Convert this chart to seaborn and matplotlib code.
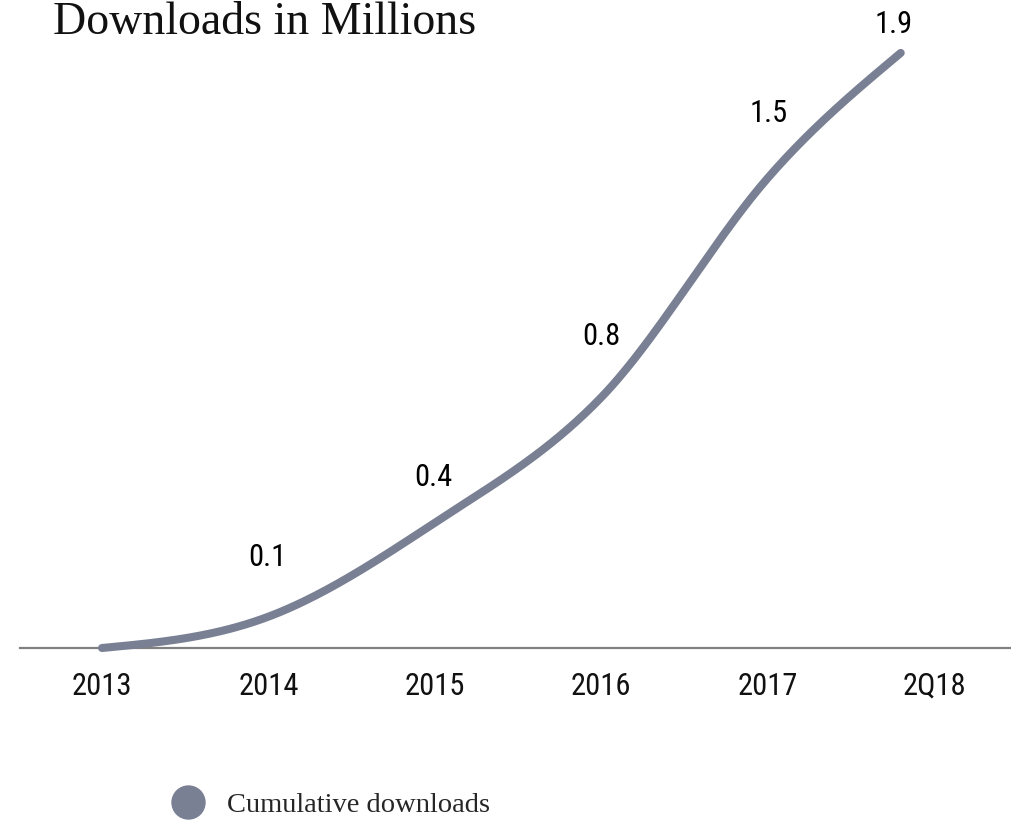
import numpy as np
import matplotlib
matplotlib.use("Agg")
import matplotlib.pyplot as plt
from matplotlib import font_manager
from matplotlib.lines import Line2D
import seaborn as sns

# Cumulative downloads, in millions
periods = ["2013", "2014", "2015", "2016", "2017", "2Q18"]
downloads = [0.0, 0.1, 0.4, 0.8, 1.5, 1.9]
value_labels = ["", "0.1", "0.4", "0.8", "1.5", "1.9"]
series_name = "Cumulative downloads"
title = "Downloads in Millions"

# horizontal position of each period along the axis (2Q18 is a partial year)
period_pos = [0, 1, 2, 3, 4, 4.8]
# label offsets (pixels) from each point
label_offsets = [(0, 0), (-1, -59), (-1, -45), (0, -61), (1, -65), (-7, -28)]

LINE_COLOR = "#7a8094"

sns.set_theme(style="white")

available = {f.name for f in font_manager.fontManager.ttflist}
def pick(*names):
    for n in names:
        if n in available:
            return n
    return "DejaVu Sans"

SANS_NARROW = pick("Liberation Sans Narrow", "Roboto Condensed", "Liberation Sans")
SERIF = pick("Liberation Serif", "DejaVu Serif")
plt.rcParams["font.family"] = [SANS_NARROW, "DejaVu Sans"]


def smooth_curve(x, y, n=60):
    """Catmull-Rom cubic Hermite curve through the points, with
    natural-spline style end tangents."""
    x = np.asarray(x, float)
    y = np.asarray(y, float)
    h = np.diff(x)
    d = np.diff(y) / h
    m = np.zeros_like(y)
    for i in range(1, len(x) - 1):
        m[i] = (y[i + 1] - y[i - 1]) / (x[i + 1] - x[i - 1])
    m[0] = (3 * d[0] - m[1]) / 2
    m[-1] = (3 * d[-1] - m[-2]) / 2
    xs, ys = [], []
    for i in range(len(x) - 1):
        t = np.linspace(0, 1, n, endpoint=(i == len(x) - 2))
        h00 = 2 * t**3 - 3 * t**2 + 1
        h10 = t**3 - 2 * t**2 + t
        h01 = -2 * t**3 + 3 * t**2
        h11 = t**3 - t**2
        xs.append(x[i] + t * h[i])
        ys.append(h00 * y[i] + h10 * h[i] * m[i] + h01 * y[i + 1] + h11 * h[i] * m[i + 1])
    return np.concatenate(xs), np.concatenate(ys)


W, H = 1011, 821
fig = plt.figure(figsize=(W / 100, H / 100), dpi=100)
fig.patch.set_facecolor("white")
ax = fig.add_axes([20 / W, 173 / H, 991 / W, 648 / H])

cx, cy = smooth_curve(period_pos, downloads)
sns.lineplot(x=cx, y=cy, ax=ax, sort=False, estimator=None, color=LINE_COLOR,
             linewidth=5.8, solid_capstyle="round", legend=False)
for line in ax.get_lines():
    line.set_clip_on(False)

ax.set_xlim(-82 / 166.4, (W - 102) / 166.4)
ax.set_ylim(0, 648 / 313.2)

ax.set_xticks(range(len(periods)))
ax.set_xticklabels(periods, fontsize=22, color="#111111")
ax.tick_params(axis="x", length=0, pad=17)
ax.set_yticks([])
ax.set_xlabel("")
ax.set_ylabel("")
sns.despine(ax=ax, left=True, top=True, right=True)
ax.spines["bottom"].set_color("#808080")
ax.spines["bottom"].set_linewidth(1.6)
ax.spines["bottom"].set_zorder(1)
ax.grid(False)

px2pt = 0.72
for x, v, lab, (dx, dy) in zip(period_pos, downloads, value_labels, label_offsets):
    if not lab:
        continue
    ax.annotate(lab, xy=(x, v), xytext=(dx * px2pt, -dy * px2pt),
                textcoords="offset points", ha="center", va="center",
                fontsize=22, fontweight="normal", color="#000000",
                annotation_clip=False)

fig.text(53 / W, 1 - 34 / H, title, family=[SERIF], fontsize=33,
         color="#111111", ha="left", va="baseline")

handle = Line2D([0], [0], marker="o", linestyle="none", color=LINE_COLOR,
                markersize=33 * px2pt)
fig.legend(handles=[handle], labels=[series_name], loc="center left",
           bbox_to_anchor=(169.5 / W, 1 - 805 / H), frameon=False,
           borderpad=0, borderaxespad=0, handlelength=1.3,
           handletextpad=0.72, prop={"family": [SERIF], "size": 20.5})

fig.savefig("out.png", dpi=100, facecolor="white")
